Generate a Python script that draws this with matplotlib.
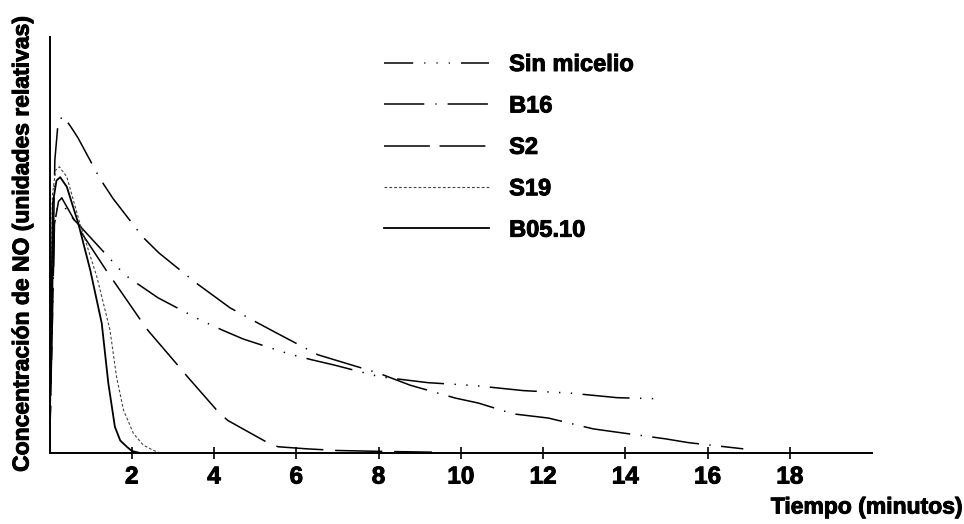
import matplotlib
matplotlib.use("Agg")
import matplotlib.pyplot as plt
from matplotlib.lines import Line2D
import matplotlib.patheffects as pe

plt.rcParams["font.family"] = ["Liberation Sans", "DejaVu Sans"]
plt.rcParams["font.weight"] = "bold"
plt.rcParams["lines.scale_dashes"] = False

# NO concentration (relative units) versus time (minutes)
t_sin = [0, 0.12, 0.22, 0.30, 0.42, 1.72, 1.93, 2.64, 3.66, 4.19, 4.71, 5.83,
         6.38, 6.9, 8.04, 9.21, 10.35, 11.52, 12.66, 13.8, 14.9]
c_sin = [0, 55, 60.5, 61.3, 58.0, 44.0, 42.1, 37.3, 32.0, 29.6, 27.4, 23.8,
         22.4, 21.2, 18.3, 16.9, 16.2, 15.0, 14.4, 13.3, 13.0]

t_b16 = [0, 0.13, 0.21, 0.33, 0.52, 0.69, 1.23, 1.55, 2.27, 2.66, 3.56, 4.39,
         5.0, 5.53, 6.53, 8.0, 8.77, 9.87, 10.43, 11.28, 12.13, 13.22, 13.8,
         14.98, 15.53, 16.87]
c_b16 = [0, 70.4, 79.6, 81.0, 78.4, 75.8, 65.9, 61.1, 51.9, 48.1, 40.9, 34.9,
         31.6, 28.8, 23.6, 19.2, 16.3, 13.2, 12.0, 9.4, 8.4, 5.8, 5.0,
         3.4, 2.5, 1.0]

t_s2 = [0, 0.12, 0.22, 0.30, 0.78, 1.42, 1.59, 2.24, 2.40, 3.18, 3.34, 4.12,
        4.34, 5.32, 5.56, 6.26, 7.0, 8.0, 9.3]
c_s2 = [0, 55, 60.5, 61.3, 52.9, 43.3, 40.9, 31.6, 29.4, 20.4, 18.5, 9.7,
        7.8, 2.4, 1.5, 1.0, 0.6, 0.4, 0.2]

t_s19 = [0, 0.07, 0.15, 0.24, 0.42, 0.74, 1.15, 1.47, 1.63, 1.80, 2.04, 2.28,
         2.53, 2.65]
c_s19 = [0, 62, 68, 68.8, 66.4, 55.2, 42.4, 29.6, 18.3, 10.3, 4.7, 1.9,
         0.6, 0.2]

t_b05 = [0, 0.08, 0.17, 0.26, 0.42, 0.70, 0.99, 1.27, 1.43, 1.59, 1.72, 1.88,
         2.0, 2.2]
c_b05 = [0, 60, 65.5, 66.3, 64.0, 55.2, 44.0, 31.2, 16.8, 6.3, 3.0, 1.5,
         0.5, 0]

labels = ["Sin micelio", "B16", "S2", "S19", "B05.10"]
xticks = [2, 4, 6, 8, 10, 12, 14, 16, 18]

# slight outline to give the bold lettering a heavier look
heavy = [pe.withStroke(linewidth=0.7, foreground="black")]

fig = plt.figure(figsize=(9.64, 5.24), dpi=100)
ax = fig.add_axes([49.5 / 964, 1 - 453 / 524, (872 - 49.5) / 964, (453 - 37) / 524])

lw = 1.1
ax.plot(t_sin, c_sin, color="black", lw=lw,
        linestyle=(0, (34, 7.5, 1, 7.5, 1, 7.5, 1, 7.5)))
ax.plot(t_b16, c_b16, color="black", lw=lw, linestyle=(0, (34, 7.5, 1, 7.5)))
ax.plot(t_s2, c_s2, color="black", lw=lw, linestyle=(0, (34, 8.5)))
ax.plot(t_s19, c_s19, color="#444444", lw=0.8, linestyle=(0, (2, 1.5)))
ax.plot(t_b05, c_b05, color="black", lw=1.3, linestyle="-")

ax.set_xlim(0, 20)
ax.set_ylim(0, 100)
ax.set_xticks(xticks)
ax.set_xticklabels([str(v) for v in xticks], fontsize=17.5, fontweight="bold")
for lab in ax.get_xticklabels():
    lab.set_path_effects(heavy)
ax.set_yticks([])
ax.tick_params(axis="x", direction="inout", length=8, width=1.2, pad=5)
for side in ("top", "right"):
    ax.spines[side].set_visible(False)
for side in ("left", "bottom"):
    ax.spines[side].set_linewidth(1.4)

# Legend handles with the dash layout used in the key
handles = [
    Line2D([], [], color="black", lw=lw,
           linestyle=(0, (21, 8, 0.8, 8, 0.8, 8, 0.8, 8))),
    Line2D([], [], color="black", lw=lw, linestyle=(0, (29, 8, 0.8, 8))),
    Line2D([], [], color="black", lw=lw, linestyle=(0, (33, 7))),
    Line2D([], [], color="#444444", lw=0.8, linestyle=(0, (2, 1.5))),
    Line2D([], [], color="black", lw=1.3, linestyle="-"),
]
leg = fig.legend(handles, labels, loc="upper left",
                 bbox_to_anchor=(384 / 964, 1 - 53 / 524),
                 frameon=False, handlelength=4.45, handletextpad=0.85,
                 labelspacing=0.78, borderpad=0, borderaxespad=0,
                 prop={"weight": "bold", "size": 17})
for txt in leg.get_texts():
    txt.set_path_effects(heavy)

fig.text(962 / 964, 1 - 507 / 524, "Tiempo (minutos)", ha="right", va="center",
         fontsize=16.5, fontweight="bold", path_effects=heavy)
fig.text(22 / 964, 1 - 245 / 524, "Concentración de NO (unidades relativas)",
         rotation=90, ha="center", va="center", fontsize=16.5,
         fontweight="bold", path_effects=heavy)

fig.savefig("out.png", dpi=100)
